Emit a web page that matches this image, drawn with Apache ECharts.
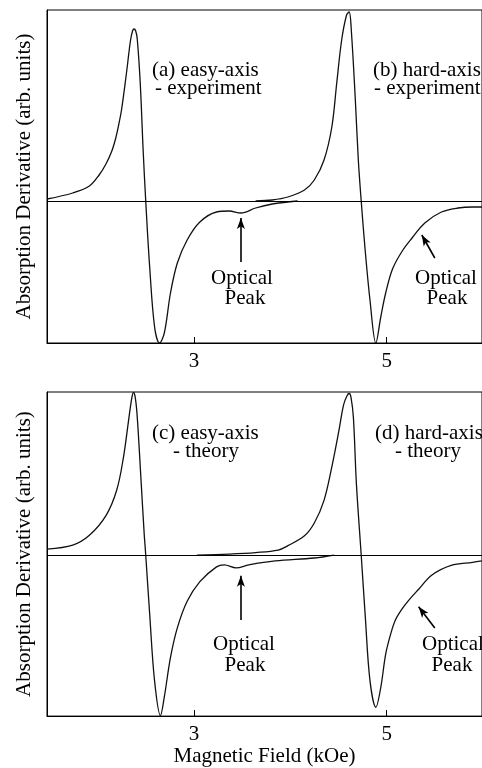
<!DOCTYPE html>
<html>
<head>
<meta charset="utf-8">
<script src="https://cdn.jsdelivr.net/npm/echarts@6/dist/echarts.min.js"></script>
<style>
  html, body { margin: 0; padding: 0; background: #fff; }
  #main { width: 482px; height: 768px; }
</style>
</head>
<body>
<div id="main"></div>
<script>
// field in kOe, signal in arbitrary units
var xTicks = [3, 5];

// (a) easy-axis experiment
var easyExpField  = [1.474, 1.741, 1.914, 2.015, 2.086, 2.147, 2.188, 2.218, 2.249, 2.299, 2.340, 2.362, 2.378, 2.395, 2.411, 2.442, 2.472, 2.499, 2.540, 2.591, 2.642, 2.692, 2.756, 2.827, 2.929, 3.061, 3.234, 3.365, 3.487, 3.640, 3.812, 3.975, 4.076];
var easyExpSignal = [2, 8, 15, 26, 37, 50, 63, 76, 92, 128, 160, 170, 172, 170, 162, 118, 51, 0, -66, -126, -142, -132, -92, -62, -39, -21, -11, -10, -12, -7, -3, -1, 0];

// (b) hard-axis experiment
var hardExpField  = [3.640, 3.812, 3.975, 4.147, 4.249, 4.350, 4.431, 4.482, 4.533, 4.584, 4.611, 4.635, 4.675, 4.706, 4.736, 4.777, 4.827, 4.888, 4.939, 4.990, 5.061, 5.162, 5.264, 5.396, 5.569, 5.741, 5.893, 5.990];
var hardExpSignal = [0, 1, 4, 11, 21, 41, 74, 118, 161, 186, 189, 168, 101, 41, 0, -49, -99, -142, -116, -92, -68, -50, -37, -22, -11, -7, -6, -6];

// (c) easy-axis theory
var easyThField  = [1.474, 1.741, 1.914, 2.086, 2.198, 2.269, 2.320, 2.352, 2.371, 2.390, 2.411, 2.452, 2.482, 2.499, 2.540, 2.591, 2.652, 2.692, 2.756, 2.827, 2.929, 3.061, 3.234, 3.315, 3.437, 3.569, 3.843, 4.249, 4.452];
var easyThSignal = [6, 10, 20, 40, 66, 100, 136, 158, 165, 160, 140, 73, 23, 0, -60, -128, -163, -144, -104, -74, -47, -27, -12, -10, -13, -10, -6, -3, 0];

// (d) hard-axis theory
var hardThField  = [3.030, 3.365, 3.640, 3.873, 3.975, 4.147, 4.249, 4.350, 4.431, 4.503, 4.553, 4.590, 4.611, 4.630, 4.655, 4.686, 4.736, 4.777, 4.827, 4.888, 4.939, 4.990, 5.041, 5.091, 5.162, 5.233, 5.335, 5.467, 5.670, 5.893, 5.990];
var hardThSignal = [0, 1, 2.5, 5, 9.5, 19.5, 32.5, 55.5, 89.5, 125.5, 152.5, 162, 164, 160, 139.5, 72.5, 0, -60.5, -127.5, -154.5, -134.5, -100.5, -80.5, -66, -54.5, -45.5, -34.5, -20.5, -10.5, -7.5, -6];

// arrows pointing at the optical peaks: [field, signal] tail -> head
var arrowA = [[3.487, -61], [3.487, -17]];
var arrowB = [[5.500, -57], [5.365, -34]];
var arrowC = [[3.487, -66], [3.487, -21]];
var arrowD = [[5.500, -74], [5.332, -52.5]];

function pairs(xs, ys) {
  return xs.map(function (x, i) { return [x, ys[i]]; });
}

var FONT = '"Liberation Serif", "Times New Roman", serif';
var chart = echarts.init(document.getElementById('main'));

function xAxisFor(idx, withName) {
  var ax = {
    type: 'value', gridIndex: idx, min: 1.474, max: 5.99,
    axisLine: { show: true, onZero: false, lineStyle: { color: '#000', width: 1 } },
    axisTick: { show: true, inside: true, length: 6, customValues: xTicks, lineStyle: { color: '#000' } },
    axisLabel: { customValues: xTicks, color: '#000', fontFamily: FONT, fontSize: 21, margin: 8 },
    splitLine: { show: false }
  };
  if (withName) {
    ax.name = 'Magnetic Field (kOe)';
    ax.nameLocation = 'middle';
    ax.nameGap = 29;
    ax.nameTextStyle = { color: '#000', fontFamily: FONT, fontSize: 21 };
  }
  return ax;
}

function yAxisFor(idx, lo, hi) {
  return {
    type: 'value', gridIndex: idx, min: lo, max: hi,
    name: 'Absorption Derivative (arb. units)',
    nameLocation: 'middle', nameGap: 12, nameRotate: 90,
    nameTextStyle: { color: '#000', fontFamily: FONT, fontSize: 21 },
    axisLine: { show: true, lineStyle: { color: '#000', width: 1 } },
    axisTick: { show: false },
    axisLabel: { show: false },
    splitLine: { show: false }
  };
}

function curve(idx, data, marks) {
  var s = {
    type: 'line', xAxisIndex: idx, yAxisIndex: idx,
    data: data, smooth: 0.35, showSymbol: false, symbol: 'none',
    lineStyle: { color: '#111', width: 1.3 },
    silent: true, animation: false
  };
  if (marks) s.markLine = marks;
  return s;
}

// arrows toward the optical peaks
function arrowMarks(arrows) {
  return {
    silent: true, animation: false, label: { show: false },
    lineStyle: { type: 'solid', color: '#000', width: 1.6 },
    symbol: ['none', 'arrow'], symbolSize: [6, 11],
    data: arrows.map(function (a) { return [{ coord: a[0] }, { coord: a[1] }]; })
  };
}

// horizontal zero line
var zeroMark = {
  silent: true, animation: false, label: { show: false },
  symbol: ['none', 'none'],
  lineStyle: { type: 'solid', color: '#000', width: 1 },
  data: [{ yAxis: 0 }]
};

function txt(str, x, y, align) {
  return {
    type: 'text', x: x, y: y, silent: true,
    style: { text: str, fill: '#000', font: '21px ' + FONT, textAlign: align || 'left', verticalAlign: 'middle', textVerticalAlign: 'middle' }
  };
}

var option = {
  backgroundColor: '#fff',
  animation: false,
  grid: [
    { left: 47, top: 10, right: -11, height: 333, show: true, borderColor: '#000', borderWidth: 1, backgroundColor: 'transparent' },
    { left: 47, top: 392, right: -11, height: 329, show: true, borderColor: '#000', borderWidth: 1, backgroundColor: 'transparent' }
  ],
  xAxis: [xAxisFor(0, false), xAxisFor(1, true)],
  yAxis: [yAxisFor(0, -142, 191), yAxisFor(1, -163.5, 165.5)],
  series: [
    curve(0, pairs(easyExpField, easyExpSignal), arrowMarks([arrowA, arrowB])),
    curve(0, pairs(hardExpField, hardExpSignal), zeroMark),
    curve(1, pairs(easyThField, easyThSignal), arrowMarks([arrowC, arrowD])),
    curve(1, pairs(hardThField, hardThSignal), zeroMark)
  ],
  graphic: [
    txt('(a) easy-axis', 152, 70),
    txt('- experiment', 155, 88),
    txt('(b) hard-axis', 373, 70),
    txt('- experiment', 374, 88),
    txt('Optical', 242, 278, 'center'),
    txt('Peak', 245, 298, 'center'),
    txt('Optical', 446, 278, 'center'),
    txt('Peak', 447, 298, 'center'),
    txt('(c) easy-axis', 152, 433),
    txt('- theory', 173, 451),
    txt('(d) hard-axis', 375, 433),
    txt('- theory', 395, 451),
    txt('Optical', 244, 644, 'center'),
    txt('Peak', 245, 665, 'center'),
    txt('Optical', 422, 644),
    txt('Peak', 452, 665, 'center')
  ]
};

chart.setOption(option);
</script>
</body>
</html>
